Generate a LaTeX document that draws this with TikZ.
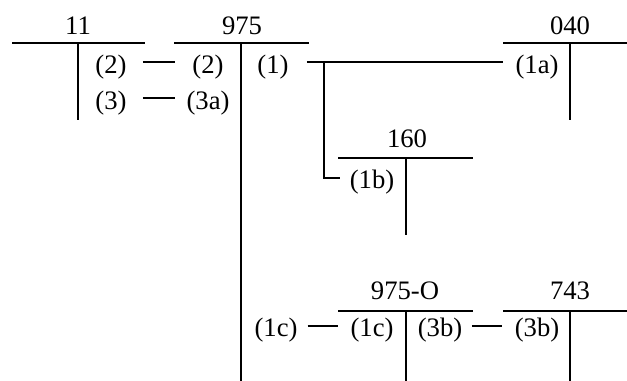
\documentclass[tikz,border=0pt]{standalone}
\usepackage{fontspec}
\setmainfont{Liberation Serif}
\begin{document}
\begin{tikzpicture}[x=0.75pt,y=-0.75pt,
  every node/.style={inner sep=0pt, font=\fontsize{20}{24}\selectfont},
  tline/.style={line width=1.2pt},
  conn/.style={line width=1.2pt}]
\useasboundingbox (0,0) rectangle (627,381);
% T-account lines
\draw[tline] (12,43) -- (145,43) (78,43) -- (78,120);
\draw[tline] (174,43) -- (309,43) (241,43) -- (241,381);
\draw[tline] (503,43) -- (627,43) (570,43) -- (570,120);
\draw[tline] (338,158) -- (473,158) (406,158) -- (406,235);
\draw[tline] (338,311) -- (473,311) (406,311) -- (406,381);
\draw[tline] (503,311) -- (627,311) (570,311) -- (570,381);
% titles
\node (t11) at (78,26) {11};
\node (t975) at (242,26) {975};
\node (t040) at (570,26) {040};
\node (t160) at (407,139) {160};
\node (t975o) at (405,291) {975-O};
\node (t743) at (570,291) {743};
% entries
\node (e11a) at (111,67) {(2)};
\node (e11b) at (111,103) {(3)};
\node (e975a) at (208,67) {(2)};
\node (e975b) at (208,103) {(3a)};
\node (e975c) at (273,67) {(1)};
\node (e975d) at (276,330) {(1c)};
\node (e040) at (537,67) {(1a)};
\node (e160) at (372,182) {(1b)};
\node (e975oa) at (372,330) {(1c)};
\node (e975ob) at (440,330) {(3b)};
\node (e743) at (537,330) {(3b)};
% connectors
\draw[conn] ([shift={(16,-5)}]e11a.east) -- ([shift={(-17,-5)}]e975a.west);
\draw[conn] ([shift={(16,-5)}]e11b.east) -- ([shift={(-11,-5)}]e975b.west);
\draw[conn] ([shift={(18,-5)}]e975c.east) -- ([shift={(-12,-5)}]e040.west);
\draw[conn] ([shift={(35,-5)}]e975c.east) |- ([shift={(-9.5,-4)}]e160.west);
\draw[conn] ([shift={(10,-4)}]e975d.east) -- ([shift={(-12,-4)}]e975oa.west);
\draw[conn] ([shift={(9.5,-4)}]e975ob.east) -- ([shift={(-12.5,-4)}]e743.west);
\end{tikzpicture}
\end{document}
